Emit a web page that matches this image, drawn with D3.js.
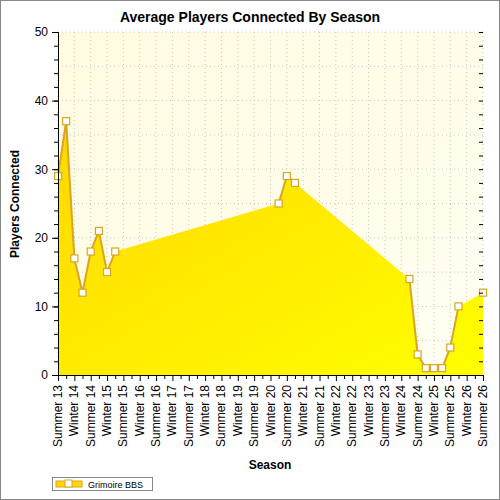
<!DOCTYPE html><html><head><meta charset="utf-8">
<script src="https://cdn.jsdelivr.net/npm/d3@7"></script>
<style>body{margin:0;background:#fff}</style></head><body><svg id="c" width="500" height="500"></svg>
<script>
const seasons=["Summer 13","Winter 14","Summer 14","Winter 15","Summer 15","Winter 16","Summer 16","Winter 17","Summer 17","Winter 18","Summer 18","Winter 19","Summer 19","Winter 20","Summer 20","Winter 21","Summer 21","Winter 22","Summer 22","Winter 23","Summer 23","Winter 24","Summer 24","Winter 25","Summer 25","Winter 26","Summer 26"];
const xPos=[0,0.5,1,1.5,2,2.5,3,3.5,13.5,14,14.5,21.5,22,22.5,23,23.5,24,24.5,26];
const players=[29,37,17,12,18,21,15,18,25,29,28,14,3,1,1,1,4,10,12];
const yTicks=[0,10,20,30,40,50];
const data=xPos.map((x,i)=>({x,y:players[i]}));
const svg=d3.select("#c");
const L=58,R=483,T=32,B=375;
const x=d3.scaleLinear().domain([0,26]).range([L,R]);
const y=d3.scaleLinear().domain([0,50]).range([B,T]);
const defs=svg.append("defs");
const bg=defs.append("linearGradient").attr("id","bg").attr("x1",0).attr("y1",0).attr("x2",1).attr("y2",1);
bg.append("stop").attr("offset",0).attr("stop-color","#fffbe0");bg.append("stop").attr("offset",1).attr("stop-color","#fffff2");
const ag=defs.append("linearGradient").attr("id","ag").attr("x1",0).attr("y1",0).attr("x2",1).attr("y2",1);
ag.append("stop").attr("offset",0).attr("stop-color","#ffd700");ag.append("stop").attr("offset",1).attr("stop-color","#ffff00");
svg.append("rect").attr("x",0.5).attr("y",0.5).attr("width",499).attr("height",499).attr("fill","#fff").attr("stroke","#888");
svg.append("rect").attr("x",L).attr("y",T).attr("width",R-L).attr("height",B-T).attr("fill","url(#bg)");
const g=svg.append("g");
d3.range(0,51,5).forEach(v=>g.append("line").attr("x1",L).attr("x2",R).attr("y1",y(v)).attr("y2",y(v)).attr("stroke","#c8c8c8").attr("stroke-dasharray","1,3"));
seasons.forEach((s,i)=>g.append("line").attr("x1",x(i)).attr("x2",x(i)).attr("y1",T).attr("y2",B).attr("stroke","#c8c8c8").attr("stroke-dasharray","1,3"));
svg.append("path").datum(data).attr("fill","url(#ag)").attr("d",d3.area().x(d=>x(d.x)).y0(B).y1(d=>y(d.y)));
// line segments only between consecutive half-steps
const segs=[];let cur=[data[0]];
for(let i=1;i<data.length;i++){if(Math.abs(data[i].x-data[i-1].x-0.5)<1e-6)cur.push(data[i]);else{segs.push(cur);cur=[data[i]];}}
segs.push(cur);
const ln=d3.line().x(d=>x(d.x)).y(d=>y(d.y));
segs.filter(s=>s.length>1).forEach(s=>svg.append("path").attr("d",ln(s)).attr("fill","none").attr("stroke","#daa520").attr("stroke-width",2));
svg.selectAll("rect.pt").data(data).join("rect").attr("class","pt").attr("x",d=>x(d.x)-3.5).attr("y",d=>y(d.y)-3.5).attr("width",7).attr("height",7).attr("fill","#fff").attr("stroke","#daa520").attr("stroke-width",1.2);
// axes
const ya=svg.append("g").attr("transform",`translate(${L},0)`).call(d3.axisLeft(y).tickValues(yTicks).tickSize(6).tickPadding(6));
ya.call(d3.axisLeft(y).tickValues(d3.range(0,51,2)).tickSize(4).tickFormat(""));
svg.append("g").attr("transform",`translate(${L},0)`).call(d3.axisLeft(y).tickValues(yTicks).tickSize(6).tickPadding(4)).selectAll("text").attr("fill","#000").style("font","12px 'Liberation Sans',Arial");
svg.append("g").attr("transform",`translate(${R},0)`).call(d3.axisRight(y).tickValues(d3.range(0,51,2)).tickSize(-4).tickFormat("")).select(".domain").remove();
const xa=svg.append("g").attr("transform",`translate(0,${B})`).call(d3.axisBottom(x).tickValues(d3.range(0,26.01,0.5)).tickSize(4).tickFormat(""));
xa.selectAll(".tick line").attr("y2",(d)=>d%1===0?6:4);
const xl=svg.append("g").attr("transform",`translate(0,${B})`);
seasons.forEach((s,i)=>xl.append("text").attr("transform",`translate(${x(i)+4},${10}) rotate(-90)`).attr("text-anchor","end").style("font","12px 'Liberation Sans',Arial").text(s));
svg.append("text").attr("x",250).attr("y",22).attr("text-anchor","middle").style("font","bold 14px 'Liberation Sans',Arial").text("Average Players Connected By Season");
svg.append("text").attr("x",270).attr("y",469).attr("text-anchor","middle").style("font","bold 12px 'Liberation Sans',Arial").text("Season");
svg.append("text").attr("transform","translate(19,204) rotate(-90)").attr("text-anchor","middle").style("font","bold 12px 'Liberation Sans',Arial").text("Players Connected");
svg.append("rect").attr("x",52.5).attr("y",477.5).attr("width",100).attr("height",13).attr("fill","#fff").attr("stroke","#888");
svg.append("rect").attr("x",56).attr("y",481).attr("width",26).attr("height",6).attr("fill","#ffd700").attr("stroke","#daa520");
svg.append("rect").attr("x",65).attr("y",480).attr("width",7).attr("height",7).attr("fill","#fff").attr("stroke","#daa520");
svg.append("text").attr("x",88).attr("y",488).style("font","9px 'Liberation Sans',Arial").text("Grimoire BBS");
</script></body></html>
